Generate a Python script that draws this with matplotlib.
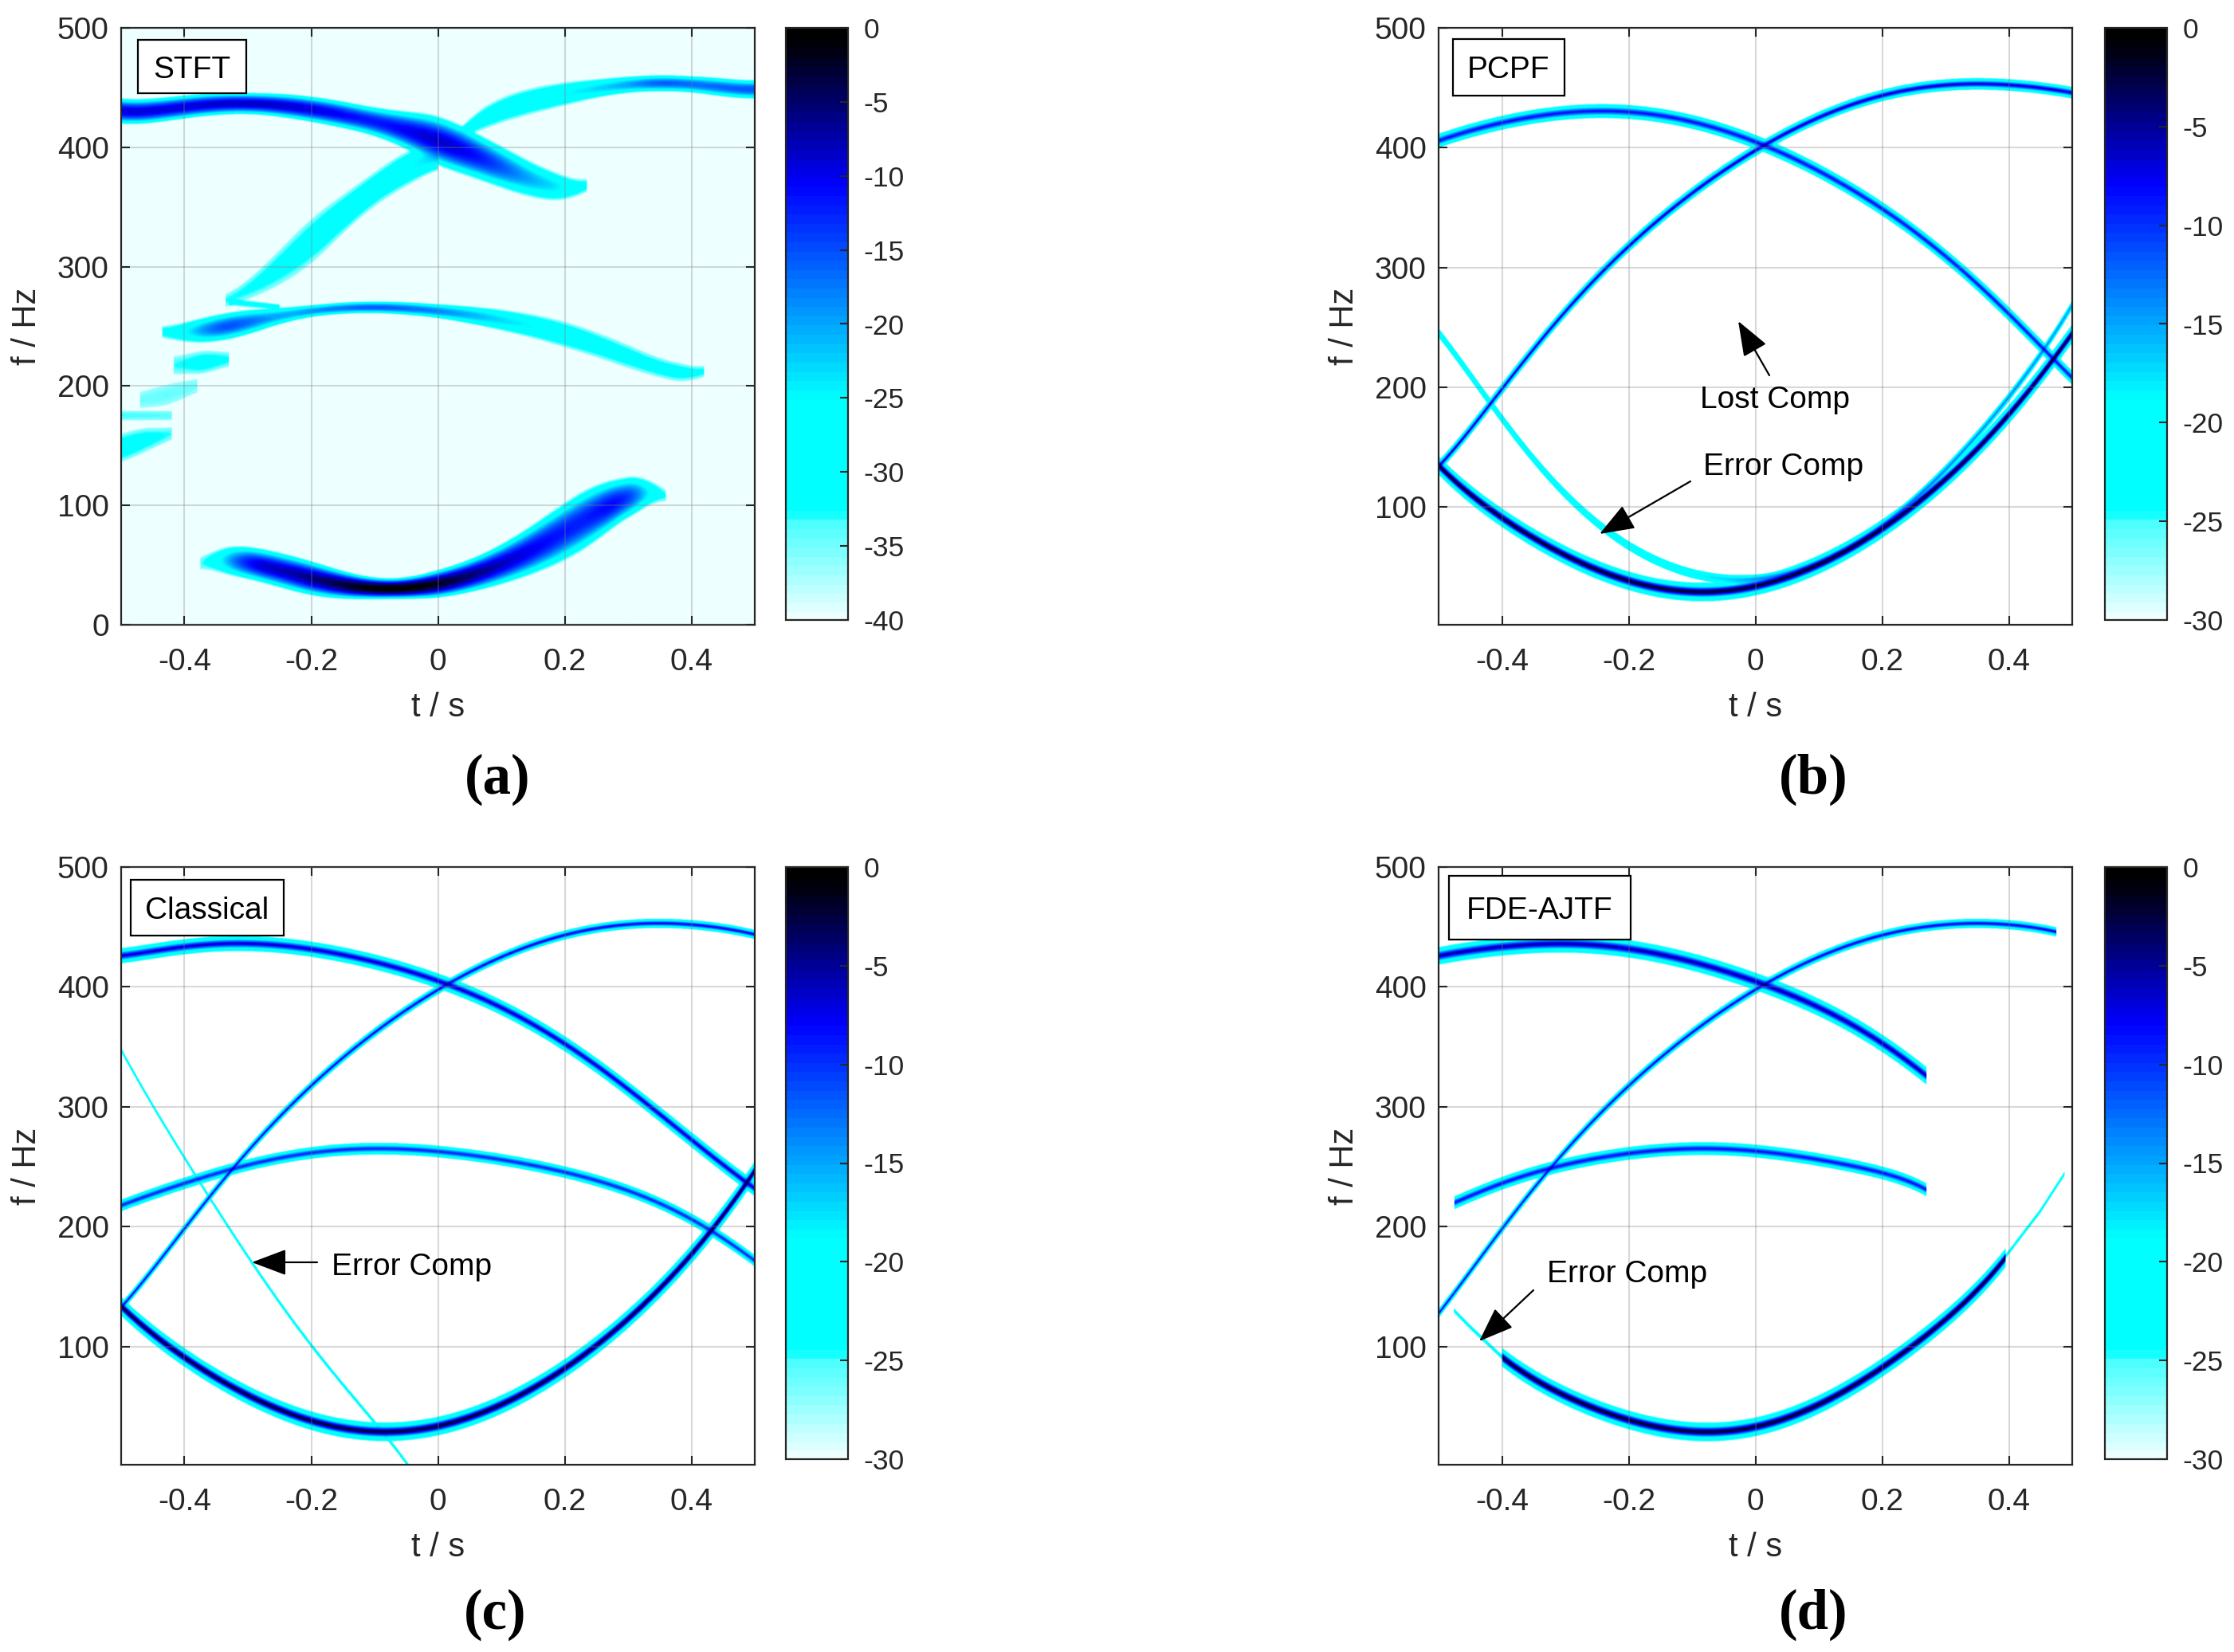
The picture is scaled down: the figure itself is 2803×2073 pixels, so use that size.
import matplotlib
matplotlib.use('Agg')

import numpy as np
import matplotlib.pyplot as plt
from matplotlib.colors import LinearSegmentedColormap
from matplotlib.cm import ScalarMappable
from matplotlib.colors import Normalize
from matplotlib.patches import Rectangle

plt.rcParams['font.family'] = ['Liberation Sans', 'DejaVu Sans']

W, H = 2803, 2073

# --- ridge values (t in s, f in Hz) ---
t_full = [-.5, -.45, -.4, -.35, -.3, -.25, -.2, -.15, -.1, -.05, 0,
          .05, .1, .15, .2, .25, .3, .35, .4, .45, .5]

# Classical
c_top = [426, 430.5, 433.5, 435.5, 436, 435, 432, 427, 421, 413.5, 405,
         394.5, 383, 369.5, 353, 334.5, 314.5, 294, 273, 252, 232]
c_rise = [133, 165, 198, 232, 265, 291, 316, 341, 364, 381, 397,
          412, 425, 436, 443, 449, 452, 453.5, 452, 449, 444]
c_mid = [218, 227, 236, 245, 252, 257, 261, 264, 265, 265, 263,
         260, 256, 251, 245, 238, 231, 220, 206, 190, 172]
c_low = [133, 111, 91, 73, 59, 47, 39, 33, 29, 28.5, 33,
         41, 52, 65, 82, 102, 122, 147, 177, 210, 246]
c_err_t = [-.5, -.45, -.4, -.35, -.3, -.25, -.2, -.15, -.1, -.05, -.04]
c_err = [347, 301, 257, 215, 175, 137, 101, 68, 36, 5, -6]

# PCPF
b_top = [406, 414, 421, 426, 429.5, 430.5, 430, 426.5, 421.5, 414, 406,
         394, 380, 365, 349, 331, 310, 286, 261, 235, 208]
b_rise = [134, 165, 198, 232, 265, 291, 316, 341, 364, 381, 397,
          412, 425, 436, 444, 449, 452, 453.5, 452.5, 450, 446]
b_low = [134, 111, 91, 73, 59, 47, 39, 33, 29, 28.5, 33,
         41, 52, 65, 82, 102, 122, 147, 177, 210, 244]
b_err = [245, 210, 172, 140, 113, 85, 66, 53, 45, 41, 40,
         43, 52, 66, 84, 106, 131, 160, 190, 228, 268]
b_err_lvl = [-21, -21, -21, -21, -21, -21, -20, -20, -19, -17, -15,
             -14, -12, -12, -12, -13, -13, -13, -13, -13, -14]

# FDE-AJTF
d_top_t = [-.5, -.45, -.4, -.35, -.3, -.25, -.2, -.15, -.1, -.05, 0, .05, .1, .15, .2, .25, .27]
d_top = [426, 430.5, 433.5, 435.5, 436, 435, 432, 427, 421, 413.5, 405, 394.5, 383, 369.5, 353, 334.5, 326]
d_rise_t = [-.5, -.45, -.4, -.35, -.3, -.25, -.2, -.15, -.1, -.05, 0,
            .05, .1, .15, .2, .25, .3, .35, .4, .45, .475]
d_rise = [128, 163, 198, 232, 265, 291, 316, 341, 364, 381, 397,
          412, 425, 436, 443, 449, 452, 453, 452, 449, 446]
d_mid_t = [-.475, -.45, -.4, -.35, -.3, -.25, -.2, -.15, -.1, -.05, 0, .05, .1, .15, .2, .25, .27]
d_mid = [220, 226, 236, 245, 252, 257, 261, 264, 265, 265, 263, 260, 256, 251, 245, 236, 231]
d_low_t = [-.4, -.35, -.3, -.25, -.2, -.15, -.1, -.05, 0, .05, .1, .15, .2, .25, .3, .35, .395]
d_low = [91, 73, 59, 47, 39, 33, 29, 28.5, 33, 41, 52, 65, 82, 102, 122, 147, 174]
d_err1_t = [-.476, -.45, -.4]
d_err1 = [130, 116, 91]
d_err2_t = [.395, .45, .488]
d_err2 = [175, 213, 244]

# STFT: t, f, half width, peak level for each blob
a1_t = [-.5, -.4, -.3, -.2, -.1, -.05, 0, .05, .1, .15, .2, .235]
a1_f = [430, 433, 437, 430, 422, 414, 405, 393, 384, 373, 365, 368]
a1_w = [11, 10, 9, 11, 12, 16, 22, 20, 18, 15, 11, 4]
a1_l = [-9, -9, -8, -9, -12, -10, -8, -10, -15, -21, -24, -33]

a2_t = [.03, .05, .1, .15, .2, .25, .3, .35, .4, .45, .5]
a2_f = [408, 416, 431, 438, 444, 449, 452, 453, 452, 450, 448]
a2_w = [4, 8, 11, 11, 10, 8, 7, 7, 7, 8, 8]
a2_l = [-30, -29, -27, -26, -25, -23, -20, -15, -17, -16, -15]

a3_t = [-.335, -.3, -.25, -.2, -.15, -.1, -.05, 0]
a3_f = [272, 279, 300, 322, 343, 363, 383, 392]
a3_w = [5, 8, 15, 20, 16, 14, 15, 12]
a3_l = [-33, -32, -30, -29, -27, -27, -26, -22]

a4_t = [-.435, -.4, -.35, -.3, -.25, -.2, -.1, 0, .1, .2, .3, .35, .4, .42]
a4_f = [245, 245, 248, 253, 259, 262, 265, 263, 255, 242, 226, 214, 211, 212]
a4_w = [4, 9, 12, 11, 7, 5, 5, 6, 9, 11, 10, 8, 8, 3]
a4_l = [-32, -26, -14, -16, -21, -19, -15, -18, -23, -27, -30, -30, -30, -33]

a5_t = [-.375, -.36, -.33, -.3, -.25, -.2, -.15, -.1, -.05, 0, .05, .1, .15, .2, .25, .29, .33, .35, .36]
a5_f = [52, 52, 53, 52, 46, 39, 33, 30, 30, 35, 42, 50, 62, 77, 95, 105, 108, 109, 109]
a5_w = [3, 8, 13, 14, 15, 15, 12, 9, 9, 12, 14, 17, 21, 25, 25, 18, 15, 4, 2]
a5_l = [-36, -32, -20, -9, -8, -6, -3, 0, 0, -2, -5, -8, -10, -12, -12, -9, -22, -33, -36]

a6_t = [-.5, -.46, -.42]
a6_f = [148, 155, 160]
a6_w = [12, 11, 4]
a6_l = [-29, -30, -34]
a7_t = [-.5, -.42]
a7_f = [175, 175]
a7_w = [4, 4]
a7_l = [-33, -34]
a8_t = [-.47, -.43, -.38]
a8_f = [188, 192, 200]
a8_w = [6, 10, 5]
a8_l = [-35, -34, -35]
a9_t = [-.417, -.38, -.35, -.33]
a9_f = [217, 219, 221, 222]
a9_w = [7, 10, 10, 4]
a9_l = [-34, -30, -29, -34]
a10_t = [-.33, -.29, -.25]
a10_f = [270, 268, 266]
a10_w = [3, 3, 2]
a10_l = [-32, -30, -30]

x_ticks = [-.4, -.2, 0, .2, .4]
x_labels = ['-0.4', '-0.2', '0', '0.2', '0.4']
y_ticks = [0, 100, 200, 300, 400, 500]
y_ticks_low = [100, 200, 300, 400, 500]
cb_ticks_a = [0, -5, -10, -15, -20, -25, -30, -35, -40]
cb_ticks_b = [0, -5, -10, -15, -20, -25, -30]

# colormap, 64 flat bands
cmap = LinearSegmentedColormap.from_list('tf', [
    (0.00, '#EEFFFF'), (0.172, '#40FFFF'), (0.176, '#00FFFF'), (0.375, '#00FFFF'),
    (0.74, '#0000FF'), (0.97, '#000010'), (1.00, '#000000')], N=64)
cmap.set_under('white')

t_grid = np.linspace(-.5, .5, 1000)
f_grid = np.linspace(0, 500, 1500)


def soften(y, n=30):
    # moving average, ends held
    pad = np.pad(y, n, mode='edge')
    return np.convolve(pad, np.ones(2 * n + 1) / (2 * n + 1), mode='valid')


def centre(ts, fs):
    # a low order fit through the read points takes out reading jitter
    if len(ts) < 8:
        return np.interp(t_grid, ts, fs)
    return np.polyval(np.polyfit(ts, fs, min(7, len(ts) // 2)), t_grid)


def ridge(power, ts, fs, lvl, hw, floor, exp, halo=False):
    # add one ridge to the power map, column by column
    ts = np.asarray(ts, float)
    on = (t_grid >= ts[0]) & (t_grid <= ts[-1])
    fc = centre(ts, fs)
    pk = soften(np.interp(t_grid, ts, lvl if np.ndim(lvl) else np.full(len(ts), lvl)))
    wd = soften(np.interp(t_grid, ts, hw if np.ndim(hw) else np.full(len(ts), hw)))
    d = np.abs(f_grid[:, None] - fc[None, :]) / wd[None, :]
    if halo:
        # core falls to the cyan band at 0.55 of the half width, then a flat cyan rim
        knee = np.minimum(pk, -19)
        inner = pk + (knee - pk) * (d / .55) ** exp
        level = np.where(d < .55, inner, knee + (floor - knee) * (d - .55) / .45)
    else:
        level = pk + (floor - pk) * d ** exp
    part = 10 ** (level / 10)
    part[(d > 1) | ~np.broadcast_to(on, d.shape)] = 0
    return power + part


def to_db(power, bottom):
    return 10 * np.log10(np.maximum(power, 10 ** (bottom / 10)))


def rect(l, t, r, b):
    return [l / W, 1 - b / H, (r - l) / W, (b - t) / H]


fig = plt.figure(figsize=(W / 100, H / 100), dpi=100)
dark = '#262626'


def panel(img, box, cbox, vmin, ymin, yt, cbt, tag, tag_xy):
    ax = fig.add_axes(rect(*box))
    ax.imshow(img, extent=[-.5, .5, 0, 500], origin='lower', aspect='auto',
              cmap=cmap, vmin=vmin, vmax=0, interpolation='bilinear')
    ax.set_xlim(-.5, .5)
    ax.set_ylim(ymin, 500)
    ax.set_xticks(x_ticks)
    ax.set_xticklabels(x_labels)
    ax.set_yticks(yt)
    ax.grid(True, color='#808080', alpha=.3, lw=1.5)
    ax.set_axisbelow(False)
    ax.tick_params(direction='in', top=True, right=True, length=8, width=1.5,
                   labelsize=28, labelcolor=dark, color=dark, pad=11)
    ax.tick_params(axis='x', pad=21)
    for s in ax.spines.values():
        s.set_color(dark)
        s.set_linewidth(1.6)
    fig.text(((box[0] + box[2]) / 2) / W, 1 - (box[3] + 104) / H, 't / s', fontsize=30,
             color=dark, ha='center', va='center')
    fig.text((box[0] - 118) / W, 1 - ((box[1] + box[3]) / 2) / H, 'f / Hz', fontsize=30,
             color=dark, ha='center', va='center', rotation=90)

    cax = fig.add_axes(rect(*cbox))
    cb = fig.colorbar(ScalarMappable(Normalize(vmin, 0), cmap), cax=cax)
    cb.set_ticks(cbt)
    cb.ax.set_yticklabels([str(v) for v in cbt])
    cb.solids.set_edgecolor('face')
    cax.tick_params(direction='in', length=7, width=1.5, labelsize=25.5, labelcolor=dark,
                    color=dark, pad=14)
    cb.outline.set_edgecolor(dark)
    cb.outline.set_linewidth(1.6)

    fig.text(tag_xy[0] / W, 1 - tag_xy[1] / H, tag, fontsize=51, family='Liberation Serif',
             weight='bold', ha='center', va='center', color='black')
    return ax


def label_box(l, t, r, b, txt):
    fig.add_artist(Rectangle((l / W, 1 - b / H), (r - l) / W, (b - t) / H, transform=fig.transFigure,
                             fc='white', ec='black', lw=1.6, zorder=5))
    fig.text((l + r) / 2 / W, 1 - ((t + b) / 2 + 4) / H, txt, fontsize=28, ha='center', va='center',
             zorder=6, color='black')


def arrow(ax, tip, tail):
    ax.annotate('', xy=(tip[0] / W, 1 - tip[1] / H), xytext=(tail[0] / W, 1 - tail[1] / H),
                xycoords='figure fraction', textcoords='figure fraction', annotation_clip=False,
                arrowprops=dict(arrowstyle='-|>,head_length=0.85,head_width=0.32', mutation_scale=32,
                                color='black', lw=1.6, shrinkA=0, shrinkB=0))


def note(x, y, txt):
    fig.text(x / W, 1 - (y + 4) / H, txt, fontsize=28, ha='center', va='center', color='black')


# --- STFT ---
p = np.zeros((len(f_grid), len(t_grid)))
for ts, fs, ws, ls in [(a1_t, a1_f, a1_w, a1_l), (a2_t, a2_f, a2_w, a2_l), (a3_t, a3_f, a3_w, a3_l),
                       (a4_t, a4_f, a4_w, a4_l), (a5_t, a5_f, a5_w, a5_l), (a6_t, a6_f, a6_w, a6_l),
                       (a7_t, a7_f, a7_w, a7_l), (a8_t, a8_f, a8_w, a8_l), (a9_t, a9_f, a9_w, a9_l),
                       (a10_t, a10_f, a10_w, a10_l)]:
    p = ridge(p, ts, fs, ls, ws, -37, 2.0)
ax_a = panel(to_db(p, -40), (152, 35, 947, 784), (986, 35, 1064, 778), -40, 0, y_ticks, cb_ticks_a,
             '(a)', (624, 978))
label_box(173, 50, 309, 117, 'STFT')

# --- PCPF ---
p = np.zeros((len(f_grid), len(t_grid)))
p = ridge(p, t_full, b_top, -8, 6, -26, 1.2, True)
p = ridge(p, t_full, b_rise, -6, 5, -26, 1.2, True)
p = ridge(p, t_full, b_low, -1, 8, -26, 1.2, True)
p = ridge(p, t_full, b_err, b_err_lvl, 4, -26, 1.2, True)
ax_b = panel(to_db(p, -60), (1805, 35, 2600, 784), (2641, 35, 2719, 778), -30, 1.5, y_ticks_low, cb_ticks_b,
             '(b)', (2275, 978))
label_box(1823, 49, 1963, 120, 'PCPF')
arrow(ax_b, (2181, 403), (2220, 471))
note(2227, 498, 'Lost Comp')
arrow(ax_b, (2007, 670), (2121, 604))
note(2238, 582, 'Error Comp')

# --- Classical ---
p = np.zeros((len(f_grid), len(t_grid)))
p = ridge(p, t_full, c_top, -6, 6.5, -26, 1.2, True)
p = ridge(p, t_full, c_rise, -7, 4, -26, 1.2, True)
p = ridge(p, t_full, c_mid, -9, 5, -26, 1.2, True)
p = ridge(p, t_full, c_low, -1.5, 8, -26, 1.2, True)
p = ridge(p, c_err_t, c_err, -22, 1.8, -24, 1.0)
ax_c = panel(to_db(p, -60), (152, 1088, 947, 1838), (986, 1088, 1064, 1831), -30, 1.5, y_ticks_low, cb_ticks_b,
             '(c)', (621, 2026))
label_box(164, 1104, 356, 1174, 'Classical')
arrow(ax_c, (316, 1584), (398, 1584))
note(517, 1586, 'Error Comp')

# --- FDE-AJTF ---
p = np.zeros((len(f_grid), len(t_grid)))
p = ridge(p, d_top_t, d_top, -5, 7.5, -26, 1.2, True)
p = ridge(p, d_rise_t, d_rise, -7, 4, -26, 1.2, True)
p = ridge(p, d_mid_t, d_mid, -8, 5.5, -26, 1.2, True)
p = ridge(p, d_low_t, d_low, -1, 8, -26, 1.2, True)
p = ridge(p, d_err1_t, d_err1, -22, 1.8, -24, 1.0)
p = ridge(p, d_err2_t, d_err2, -22, 1.8, -24, 1.0)
ax_d = panel(to_db(p, -60), (1805, 1088, 2600, 1838), (2641, 1088, 2719, 1831), -30, 1.5, y_ticks_low, cb_ticks_b,
             '(d)', (2275, 2026))
label_box(1818, 1099, 2046, 1179, 'FDE-AJTF')
arrow(ax_d, (1856, 1683), (1924, 1619))
note(2042, 1595, 'Error Comp')

plt.savefig('out.png', dpi=100)
